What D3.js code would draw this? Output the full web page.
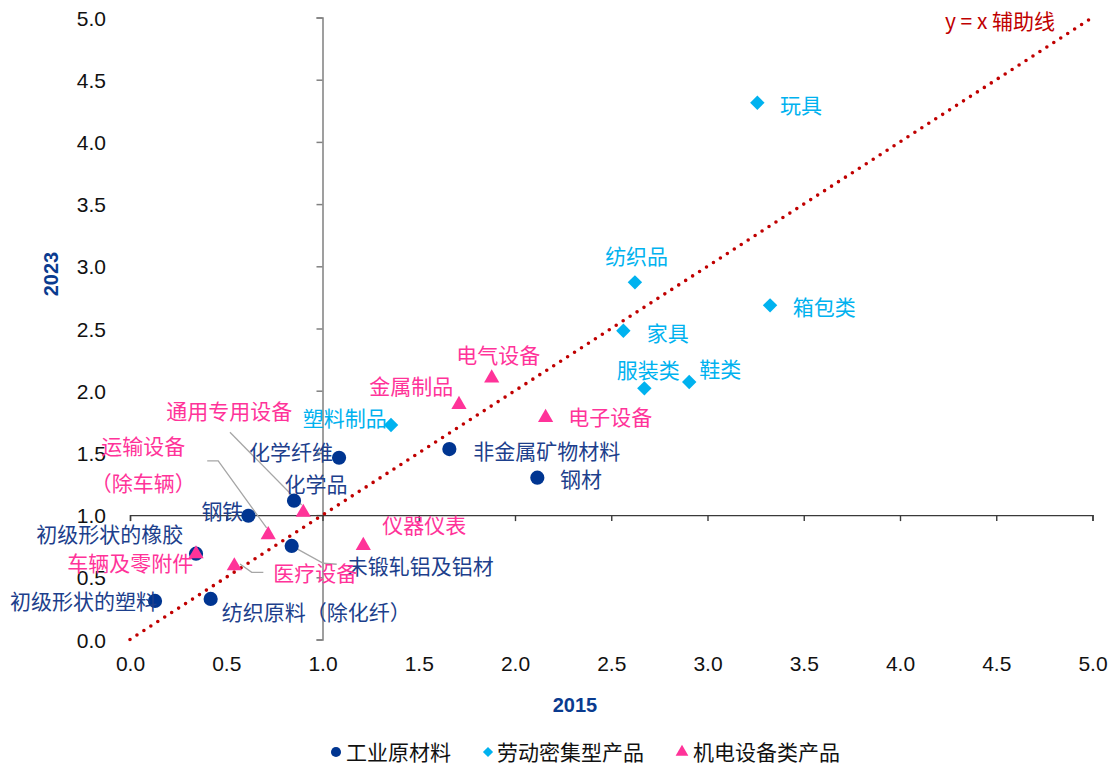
<!DOCTYPE html>
<html><head><meta charset="utf-8">
<script src="https://cdn.jsdelivr.net/npm/d3@7"></script>
<style>body{margin:0;background:#fff}svg{display:block}</style>
</head><body>
<svg id="chart" width="1110" height="769"></svg>
<script>
// ---------- DATA ----------
const industrialNames = ["化学纤维","化学品","钢铁","初级形状的橡胶","初级形状的塑料","纺织原料（除化纤）","未锻轧铝及铝材","非金属矿物材料","钢材"];
const industrialX2015 = [1.086,0.852,0.615,0.343,0.130,0.419,0.840,1.659,2.116];
const industrialY2023 = [1.461,1.116,0.995,0.690,0.310,0.326,0.752,1.531,1.301];

const laborNames = ["塑料制品","纺织品","家具","服装类","鞋类","箱包类","玩具"];
const laborX2015 = [1.356,2.623,2.563,2.672,2.905,3.325,3.259];
const laborY2023 = [1.724,2.871,2.482,2.019,2.070,2.686,4.315];

const machineryNames = ["通用专用设备","运输设备（除车辆）","医疗设备","车辆及零附件","仪器仪表","金属制品","电气设备","电子设备"];
const machineryX2015 = [0.900,0.718,0.542,0.343,1.212,1.709,1.879,2.159];
const machineryY2023 = [1.021,0.842,0.591,0.688,0.755,1.888,2.101,1.784];

const xTicks = [0,0.5,1,1.5,2,2.5,3,3.5,4,4.5,5];
const yTicks = [0,0.5,1,1.5,2,2.5,3,3.5,4,4.5,5];
const xTitle = "2015";
const yTitle = "2023";
const refLineLabel = "y = x 辅助线";
const seriesNames = ["工业原材料","劳动密集型产品","机电设备类产品"];

// ---------- LAYOUT / STYLE (label offsets in px from marker) ----------
const labelLayout = {
  "化学纤维":{a:"end",dx:-6,dy:-5},
  "化学品":{a:"middle",dx:22,dy:-16.4},
  "钢铁":{a:"end",dx:-5,dy:-4},
  "初级形状的橡胶":{a:"end",dx:-12.7,dy:-19.7},
  "初级形状的塑料":{a:"end",dx:2,dy:1},
  "纺织原料（除化纤）":{a:"start",dx:11,dy:13.5},
  "未锻轧铝及铝材":{a:"start",dx:55,dy:20.7},
  "非金属矿物材料":{a:"start",dx:24,dy:2.7},
  "钢材":{a:"start",dx:22.7,dy:1.3},
  "塑料制品":{a:"end",dx:-4.3,dy:-6.7},
  "纺织品":{a:"middle",dx:1.7,dy:-25.6},
  "家具":{a:"start",dx:23.4,dy:2.6},
  "服装类":{a:"middle",dx:4,dy:-18.3},
  "鞋类":{a:"start",dx:10,dy:-12.7},
  "箱包类":{a:"start",dx:22.7,dy:2},
  "玩具":{a:"start",dx:22.7,dy:2.3},
  "通用专用设备":{a:"middle",dx:-74.1,dy:-100.8},
  "运输设备（除车辆）":{a:"middle",dx:-125,dy:-88.1,lines:["运输设备","（除车辆）"],lh:36.6},
  "医疗设备":{a:"start",dx:39,dy:7.3},
  "车辆及零附件":{a:"end",dx:-2.7,dy:9.4},
  "仪器仪表":{a:"start",dx:19,dy:-20.6},
  "金属制品":{a:"end",dx:-5.7,dy:-17.9},
  "电气设备":{a:"middle",dx:6.6,dy:-23.1},
  "电子设备":{a:"start",dx:22.6,dy:-0.3}
};
const leaderLayout = {
  "通用专用设备":[[-73.3,-80.2],[-1.6,-7.5]],
  "运输设备（除车辆）":[[-61,-73.8],[-50,-73.8],[-1.6,-6.8]],
  "医疗设备":[[5.7,-2],[17.4,6.3],[29,6.3]],
  "未锻轧铝及铝材":[[1.3,0.7],[31.6,17.3],[45,18.3]]
};

const C_NAVY = "#003591", C_NAVY_TXT = "#1d3f8c";
const C_BLUE = "#00b2ef";
const C_PINK = "#ff3399";
const C_RED = "#c00000";
const CJK = "'Noto Sans CJK SC','Microsoft YaHei',sans-serif";
const LAT = "'Liberation Sans',Arial,sans-serif";

// ---------- CHART ----------
const svg = d3.select("#chart");
const x = d3.scaleLinear().domain([0,5]).range([130,1092.5]);
const y = d3.scaleLinear().domain([0,5]).range([639.5,17.5]);

// y axis line at x=1
const gy = svg.append("g").attr("transform",`translate(${x(1)},0)`)
  .call(d3.axisLeft(y).tickValues(yTicks).tickSize(6).tickFormat(""));
gy.selectAll("path,line").attr("stroke","#808080").attr("stroke-width",1.5);
// x axis line at y=1
const gx = svg.append("g").attr("transform",`translate(0,${y(1)})`)
  .call(d3.axisBottom(x).tickValues(xTicks).tickSize(6).tickFormat(""));
gx.selectAll("path,line").attr("stroke","#3a3a3a").attr("stroke-width",1.4);

// tick labels
const yl = svg.append("g").attr("transform","translate(106,0)")
  .call(d3.axisLeft(y).tickValues(yTicks).tickSize(0).tickPadding(0).tickFormat(d3.format(".1f")));
yl.select(".domain").remove();
yl.selectAll("text").attr("font-family",LAT).attr("font-size",21).attr("fill","#111").attr("dy","0.36em");
const xl = svg.append("g").attr("transform","translate(0,0)")
  .call(d3.axisBottom(x).tickValues(xTicks).tickSize(0).tickPadding(0).tickFormat(d3.format(".1f")));
xl.select(".domain").remove();
xl.selectAll("text").attr("font-family",LAT).attr("font-size",21).attr("fill","#111").attr("y",663).attr("dy","0.36em");

// axis titles
svg.append("text").attr("x",575).attr("y",705).attr("dy","0.36em").attr("text-anchor","middle")
  .attr("font-family",LAT).attr("font-weight","bold").attr("font-size",20).attr("fill","#0a3b8f").text(xTitle);
svg.append("text").attr("transform","translate(51,274) rotate(-90)").attr("dy","0.36em").attr("text-anchor","middle")
  .attr("font-family",LAT).attr("font-weight","bold").attr("font-size",20).attr("fill","#0a3b8f").text(yTitle);

// y = x reference line
svg.append("line").attr("x1",x(0)).attr("y1",y(0)).attr("x2",x(5)).attr("y2",y(5))
  .attr("stroke",C_RED).attr("stroke-width",3.6).attr("stroke-linecap","round").attr("stroke-dasharray","0 8.27");
svg.append("text").attr("x",1000).attr("y",21.7).attr("dy","0.36em").attr("text-anchor","middle")
  .attr("font-family",CJK).attr("font-size",21).attr("fill",C_RED).text(refLineLabel);

// build series
const series = [
  {names:industrialNames, xs:industrialX2015, ys:industrialY2023, color:C_NAVY, txt:C_NAVY_TXT, sym:d3.symbolCircle, size:158, rot:0},
  {names:laborNames, xs:laborX2015, ys:laborY2023, color:C_BLUE, txt:C_BLUE, sym:d3.symbolSquare, size:104, rot:45},
  {names:machineryNames, xs:machineryX2015, ys:machineryY2023, color:C_PINK, txt:C_PINK, sym:d3.symbolTriangle, size:100, rot:0}
];

// leader lines
const leaderG = svg.append("g");
series.forEach(s => s.names.forEach((n,i) => {
  const L = leaderLayout[n]; if (!L) return;
  const px = x(s.xs[i]), py = y(s.ys[i]);
  leaderG.append("path").attr("d", d3.line()(L.map(p=>[px+p[0],py+p[1]])))
    .attr("fill","none").attr("stroke","#a6a6a6").attr("stroke-width",1.3);
}));

// markers
series.forEach(s => {
  svg.append("g").selectAll("path").data(s.names).join("path")
    .attr("d", d3.symbol().type(s.sym).size(s.size))
    .attr("transform",(d,i)=>`translate(${x(s.xs[i])},${y(s.ys[i])}) rotate(${s.rot})`)
    .attr("fill",s.color);
});

// labels
series.forEach(s => s.names.forEach((n,i) => {
  const L = labelLayout[n];
  const px = x(s.xs[i]), py = y(s.ys[i]);
  const t = svg.append("text").attr("font-family",CJK).attr("font-size",21).attr("fill",s.txt)
    .attr("text-anchor",L.a);
  if (L.lines) {
    L.lines.forEach((ln,k) => t.append("tspan").attr("x",px+L.dx).attr("y",py+L.dy+k*L.lh).attr("dy","0.36em").text(ln));
  } else {
    t.attr("x",px+L.dx).attr("y",py+L.dy).attr("dy","0.36em").text(n);
  }
}));

// legend
const legendX = [336,488,682];
const legendTextX = [346,497,693];
const legendY = 752;
series.forEach((s,k) => {
  svg.append("path").attr("d", d3.symbol().type(s.sym).size(s.sym===d3.symbolTriangle?70:(s.sym===d3.symbolSquare?52:80)))
    .attr("transform",`translate(${legendX[k]},${legendY}) rotate(${s.rot})`).attr("fill",s.color);
  svg.append("text").attr("x",legendTextX[k]).attr("y",legendY).attr("dy","0.36em")
    .attr("font-family",CJK).attr("font-size",21).attr("fill","#111").text(seriesNames[k]);
});
</script>
</body></html>
